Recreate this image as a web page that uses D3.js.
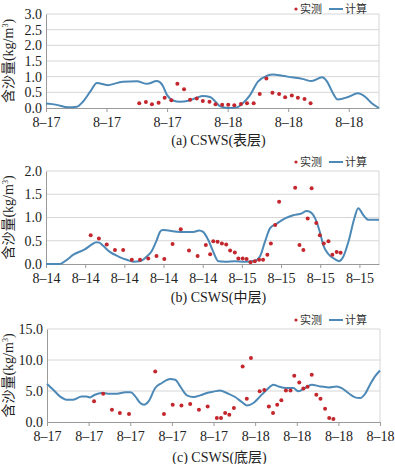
<!DOCTYPE html>
<html lang="zh">
<head>
    <meta charset="UTF-8">
    <title>CSWS 含沙量 实测与计算</title>
    <script src="https://d3js.org/d3.v7.min.js"></script>
    <style>
        body { margin: 0; background: #fff; }
        .tick text { font-family: "Liberation Serif", "DejaVu Serif", serif; font-size: 14px; fill: #222; }
        .axis path, .axis line { stroke: #9a9a9a; }
        .grid line { stroke: #d6d6d6; stroke-width: 1px; }
        .calc { fill: none; stroke: #4d89b6; stroke-width: 2px; }
        .obs { fill: #c3262c; }
        .legend text { font-family: "Noto Sans CJK SC", sans-serif; font-size: 11px; fill: #333; }
        .caption, .ytitle { font-family: "Liberation Serif", "Noto Sans CJK SC", serif; font-size: 14px; fill: #222; }
    </style>
</head>
<body>
<div id="chart"></div>
<script>
// ---- data (x = position in tick intervals along the time axis) ----
const xLabelsA = ["8–17", "8–17", "8–17", "8–18", "8–18", "8–18"];
const xLabelsB = ["8–14", "8–14", "8–14", "8–14", "8–14", "8–15", "8–15", "8–15", "8–15"];
const xLabelsC = ["8–17", "8–17", "8–17", "8–17", "8–17", "8–18", "8–18", "8–18", "8–18"];

// (a) surface layer
const calcTimeA = [0, 0.18, 0.36, 0.51, 0.61, 0.73, 0.84, 1.02, 1.27, 1.5, 1.67, 1.83, 1.92, 2.0, 2.1, 2.21, 2.35, 2.49, 2.59, 2.71, 2.79, 2.87, 3.01, 3.15, 3.25, 3.37, 3.5, 3.65, 3.75, 3.9, 4.06, 4.23, 4.39, 4.56, 4.64, 4.74, 4.82, 4.99, 5.15, 5.27, 5.38, 5.5];
const calcValueA = [0.14, 0.1, 0.02, 0.04, 0.2, 0.52, 0.8, 0.73, 0.84, 0.85, 0.77, 0.86, 0.74, 0.41, 0.24, 0.2, 0.23, 0.33, 0.38, 0.35, 0.22, 0.06, 0.0, 0.02, 0.15, 0.41, 0.84, 1.03, 1.07, 1.03, 0.98, 0.93, 0.86, 0.98, 0.85, 0.47, 0.27, 0.35, 0.47, 0.36, 0.15, 0.0];
const obsTimeA = [1.54, 1.65, 1.75, 1.86, 1.96, 2.07, 2.17, 2.28, 2.38, 2.49, 2.59, 2.7, 2.8, 2.91, 3.01, 3.11, 3.22, 3.32, 3.43, 3.53, 3.64, 3.74, 3.85, 3.95, 4.06, 4.16, 4.27, 4.37];
const obsValueA = [0.15, 0.19, 0.12, 0.17, 0.33, 0.25, 0.77, 0.6, 0.26, 0.3, 0.22, 0.2, 0.12, 0.1, 0.1, 0.09, 0.13, 0.15, 0.15, 0.45, 0.94, 0.49, 0.45, 0.34, 0.4, 0.33, 0.29, 0.15];

// (b) middle layer
const calcTimeB = [0, 0.36, 0.53, 0.7, 1.0, 1.17, 1.28, 1.36, 1.46, 1.63, 1.85, 2.06, 2.23, 2.4, 2.57, 2.7, 2.83, 2.91, 2.98, 3.12, 3.42, 3.76, 3.91, 4.01, 4.14, 4.27, 4.4, 4.57, 4.82, 5.08, 5.33, 5.46, 5.59, 5.72, 5.89, 6.1, 6.31, 6.53, 6.65, 6.74, 6.87, 6.99, 7.08, 7.21, 7.38, 7.48, 7.59, 7.72, 7.87, 7.97, 8.1, 8.23, 8.5];
const calcValueB = [0, 0, 0.09, 0.2, 0.32, 0.42, 0.47, 0.46, 0.39, 0.26, 0.16, 0.09, 0.05, 0.06, 0.16, 0.28, 0.52, 0.69, 0.73, 0.72, 0.69, 0.69, 0.72, 0.69, 0.52, 0.26, 0.06, 0.05, 0.06, 0.05, 0.07, 0.16, 0.48, 0.77, 0.87, 0.98, 1.05, 1.09, 1.14, 1.12, 0.98, 0.69, 0.4, 0.21, 0.1, 0.06, 0.16, 0.48, 0.98, 1.2, 1.05, 0.95, 0.95];
const obsTimeB = [1.14, 1.35, 1.55, 1.76, 1.97, 2.19, 2.4, 2.61, 2.82, 3.02, 3.23, 3.44, 3.65, 3.87, 4.08, 4.19, 4.27, 4.38, 4.49, 4.6, 4.7, 4.82, 4.91, 5.02, 5.12, 5.22, 5.33, 5.44, 5.54, 5.65, 5.74, 5.85, 5.95, 6.36, 6.47, 6.57, 6.68, 6.78, 6.9, 6.99, 7.09, 7.21, 7.31, 7.42, 7.52];
const obsValueB = [0.62, 0.55, 0.42, 0.3, 0.3, 0.09, 0.09, 0.12, 0.17, 0.11, 0.43, 0.75, 0.29, 0.17, 0.41, 0.21, 0.49, 0.48, 0.44, 0.42, 0.29, 0.25, 0.12, 0.12, 0.11, 0.04, 0.06, 0.09, 0.09, 0.2, 0.44, 0.84, 1.34, 1.64, 0.41, 0.3, 0.98, 1.63, 0.88, 0.62, 0.44, 0.49, 0.2, 0.26, 0.24];

// (c) bottom layer
const calcTimeC = [0, 0.15, 0.31, 0.47, 0.63, 0.83, 0.95, 1.03, 1.15, 1.31, 1.47, 1.68, 1.88, 2.01, 2.12, 2.24, 2.33, 2.44, 2.6, 2.76, 2.96, 3.08, 3.2, 3.36, 3.52, 3.68, 3.84, 4.0, 4.16, 4.32, 4.52, 4.68, 4.8, 4.96, 5.12, 5.28, 5.44, 5.56, 5.76, 5.92, 6.04, 6.2, 6.36, 6.56, 6.76, 6.96, 7.08, 7.24, 7.4, 7.52, 7.64, 7.76, 7.88, 8.0];
const calcValueC = [6.15, 5.2, 4.13, 3.6, 3.6, 4.1, 4.1, 3.97, 4.4, 4.68, 4.56, 4.56, 4.78, 4.78, 4.13, 3.06, 2.79, 3.33, 5.48, 6.29, 6.94, 6.82, 5.74, 4.3, 4.03, 4.3, 4.68, 4.9, 5.1, 4.68, 4.03, 3.22, 2.68, 3.06, 4.13, 5.2, 6.02, 5.74, 5.48, 5.48, 4.95, 5.48, 6.02, 5.74, 5.58, 5.74, 5.48, 4.68, 3.97, 3.87, 4.52, 6.02, 7.35, 8.3];
const obsTimeC = [1.13, 1.35, 1.56, 1.75, 1.97, 2.6, 2.81, 3.02, 3.23, 3.44, 3.65, 3.86, 4.08, 4.18, 4.28, 4.38, 4.49, 4.7, 4.8, 4.9, 5.11, 5.22, 5.33, 5.43, 5.53, 5.63, 5.74, 5.85, 5.94, 6.06, 6.16, 6.26, 6.36, 6.47, 6.57, 6.68, 6.78, 6.88];
const obsValueC = [3.33, 4.56, 1.98, 1.45, 1.29, 8.16, 1.29, 2.79, 2.68, 2.9, 1.98, 2.52, 0.65, 0.65, 1.45, 1.18, 2.26, 8.97, 3.76, 10.32, 4.94, 5.16, 2.52, 1.45, 2.79, 3.49, 5.1, 5.1, 7.47, 6.39, 5.42, 5.69, 7.63, 4.4, 3.76, 2.15, 0.65, 0.48];

const width = 395, height = 464;

const svg = d3.select("#chart")
    .append("svg")
    .attr("width", width)
    .attr("height", height);

function drawPanel(p) {
    const x = d3.scaleLinear().domain([0, p.xMax]).range([p.left, p.right]);
    const y = d3.scaleLinear().domain([0, p.yMax]).range([p.bottom, p.top]);
    const yTicks = d3.range(0, p.yMax + p.yStep / 2, p.yStep);

    // gridlines + right border
    const grid = svg.append("g").attr("class", "grid");
    grid.selectAll("line.h")
        .data(yTicks.slice(1))
        .enter().append("line")
        .attr("x1", p.left).attr("x2", p.right)
        .attr("y1", d => y(d)).attr("y2", d => y(d));
    grid.append("line")
        .attr("x1", p.right).attr("x2", p.right)
        .attr("y1", p.top).attr("y2", p.bottom);

    // x axis
    svg.append("g")
        .attr("class", "axis")
        .attr("transform", `translate(0,${p.bottom})`)
        .call(d3.axisBottom(x)
            .tickValues(d3.range(p.labels.length))
            .tickFormat((d, i) => p.labels[i])
            .tickSize(4).tickSizeOuter(0).tickPadding(5));

    // y axis
    svg.append("g")
        .attr("class", "axis")
        .attr("transform", `translate(${p.left},0)`)
        .call(d3.axisLeft(y)
            .tickValues(yTicks)
            .tickFormat(d3.format(".1f"))
            .tickSize(0).tickPadding(4));

    // calculated line
    const line = d3.line()
        .x((d, i) => x(p.calcT[i]))
        .y(d => y(d))
        .curve(d3.curveMonotoneX);
    svg.append("path")
        .datum(p.calcV)
        .attr("class", "calc")
        .attr("d", line);

    // observed dots
    svg.append("g").selectAll("circle")
        .data(p.obsV)
        .enter().append("circle")
        .attr("class", "obs")
        .attr("cx", (d, i) => x(p.obsT[i]))
        .attr("cy", d => y(d))
        .attr("r", 2);

    // y title
    svg.append("text")
        .attr("class", "ytitle")
        .attr("transform", `translate(8,${(p.top + p.bottom) / 2}) rotate(-90)`)
        .attr("text-anchor", "middle")
        .attr("dy", "0.35em")
        .html("含沙量(kg/m<tspan dy='-5' font-size='8'>3</tspan><tspan dy='5'>)</tspan>");

    // legend
    const lg = svg.append("g").attr("class", "legend");
    lg.append("circle").attr("cx", 296).attr("cy", p.legendY).attr("r", 1.6).attr("fill", "#c3262c");
    lg.append("text").attr("x", 300).attr("y", p.legendY).attr("dy", "0.35em").text("实测");
    lg.append("line").attr("x1", 329).attr("x2", 343).attr("y1", p.legendY).attr("y2", p.legendY)
        .attr("stroke", "#4d89b6").attr("stroke-width", 2);
    lg.append("text").attr("x", 345).attr("y", p.legendY).attr("dy", "0.35em").text("计算");

    // caption
    svg.append("text")
        .attr("class", "caption")
        .attr("x", (p.left + p.right) / 2 + 6)
        .attr("y", p.captionY)
        .attr("dy", "0.35em")
        .attr("text-anchor", "middle")
        .text(p.caption);
}

drawPanel({ left: 46, right: 379, top: 14, bottom: 108, xMax: 5.5, yMax: 3, yStep: 0.5,
    labels: xLabelsA, calcT: calcTimeA, calcV: calcValueA, obsT: obsTimeA, obsV: obsValueA,
    legendY: 9, captionY: 140, caption: "(a) CSWS(表层)" });

drawPanel({ left: 46, right: 379, top: 171, bottom: 264, xMax: 8.5, yMax: 2, yStep: 0.5,
    labels: xLabelsB, calcT: calcTimeB, calcV: calcValueB, obsT: obsTimeB, obsV: obsValueB,
    legendY: 162, captionY: 297, caption: "(b) CSWS(中层)" });

drawPanel({ left: 47, right: 380, top: 329, bottom: 422, xMax: 8, yMax: 15, yStep: 5,
    labels: xLabelsC, calcT: calcTimeC, calcV: calcValueC, obsT: obsTimeC, obsV: obsValueC,
    legendY: 320, captionY: 457, caption: "(c) CSWS(底层)" });
</script>
</body>
</html>
